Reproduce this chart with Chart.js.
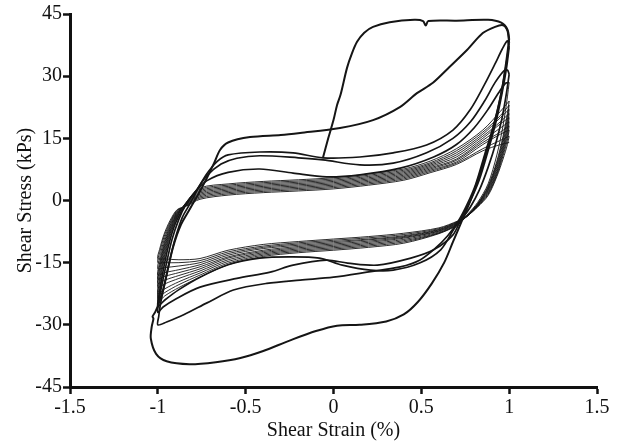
<!DOCTYPE html>
<html lang="en">
<head>
    <meta charset="UTF-8">
    <title>Shear Stress vs Shear Strain</title>
    <script src="https://cdn.jsdelivr.net/npm/chart.js"></script>
    <style>
        body {
            margin: 0;
            background-color: #ffffff;
        }
        .box {
            width: 622px;
            height: 443px;
        }
    </style>
</head>
<body>
    <div class="box">
        <canvas id="grafico"></canvas>
    </div>

    <script>
        // ticks
        const xTicks = [-1.5, -1, -0.5, 0, 0.5, 1, 1.5];
        const yTicks = [-45, -30, -15, 0, 15, 30, 45];

        // initial loading, strain (%) / stress (kPa)
        const initialLoading = [[-0.06,10.3],[-0.03,15],[0,19.4],[0.02,23],[0.04,25.5],[0.077,32],[0.105,35.5],[0.134,38.3],[0.175,40.5],[0.225,41.9],[0.32,43],[0.46,43.6],[0.51,43.3],[0.525,42.2],[0.54,43.3],[0.7,43.4],[0.88,43.6],[0.955,42.9],[0.99,41.3],[1.0,39]];

        // heavy cycles
        const cycle1 = [[1.0,39],[0.985,34],[0.96,27],[0.925,20],[0.88,13],[0.83,6],[0.78,0],[0.73,-5],[0.68,-10],[0.63,-15],[0.56,-20],[0.48,-24.5],[0.4,-27.5],[0.3,-29.2],[0.15,-30],[0.02,-30.2],[-0.1,-31.5],[-0.25,-33.8],[-0.4,-36.3],[-0.53,-38],[-0.67,-39],[-0.82,-39.5],[-0.95,-38.8],[-1.01,-37],[-1.04,-33.3],
            [-1.035,-30.5],[-1.025,-28.5],[-1.03,-28],[-1.016,-27],[-1.0,-25.5],[-0.97,-21.5],[-0.94,-16],[-0.913,-11.2],[-0.87,-6],[-0.817,-2],[-0.77,1.5],[-0.72,5.5],[-0.68,9],[-0.646,12.2],[-0.6,14],[-0.475,15.3],[-0.3,15.8],[-0.19,16.3],[0.037,17.5],[0.225,19.4],[0.38,22.6],[0.475,25.9],[0.566,28.4],[0.66,32.2],[0.76,36.3],[0.85,40.4],[0.92,41.9],[0.965,42.3],[0.99,41],[1.0,38]];

        const cycle2 = [[1.0,38],[0.98,32],[0.95,25],[0.91,18],[0.86,11],[0.81,4],[0.76,-1],[0.71,-5],[0.65,-8.5],[0.58,-11.5],[0.49,-14.4],[0.38,-16],[0.19,-17.3],[0,-18.5],[-0.19,-19.2],[-0.38,-20],[-0.57,-21.6],[-0.72,-24.7],[-0.85,-27.5],[-0.95,-29.3],[-1.0,-30],
            [-0.995,-28],[-0.985,-25],[-0.96,-20],[-0.93,-14],[-0.9,-9],[-0.86,-4],[-0.82,-1],[-0.77,3],[-0.72,6.5],[-0.66,9.5],[-0.6,11],[-0.42,11.7],[-0.23,11.5],[-0.06,10.3],[0.15,10.5],[0.34,11.5],[0.53,13.4],[0.68,17],[0.78,22],[0.86,28],[0.92,33],[0.96,36.5],[0.99,38.5],[1.0,37]];

        const cycle3 = [[1.0,37],[0.985,32],[0.96,26],[0.925,19],[0.88,12],[0.83,5],[0.78,0],[0.73,-4],[0.68,-8.3],[0.57,-11.9],[0.44,-13.9],[0.25,-15.6],[0.08,-15.1],[-0.04,-14.4],[-0.23,-15.6],[-0.36,-17.3],[-0.55,-18.8],[-0.76,-20.9],[-0.9,-23.8],[-0.97,-25.7],[-1.0,-27],
            [-0.995,-24.5],[-0.98,-21],[-0.95,-15],[-0.92,-9.5],[-0.88,-4.5],[-0.84,-1],[-0.78,2.5],[-0.72,6],[-0.64,8.8],[-0.55,10.2],[-0.42,10.8],[-0.2,10.3],[-0.06,9.8],[0.15,8.6],[0.34,9],[0.53,11.5],[0.68,15],[0.78,19],[0.86,24],[0.92,28.5],[0.97,31.3],[0.99,31.5],[1.0,30.5]];

        const cycle4 = [[1.0,30.5],[0.985,26],[0.96,20],[0.925,14],[0.88,8],[0.83,2.5],[0.78,-1.5],[0.73,-4.5],[0.69,-6.6],[0.61,-11.9],[0.49,-15.1],[0.34,-16.8],[0.21,-16.8],[0.05,-15.6],[-0.08,-13.9],[-0.25,-13.6],[-0.42,-13.9],[-0.6,-15.5],[-0.76,-18.5],[-0.88,-21.5],[-0.96,-24],[-1.0,-25.5],
            [-0.99,-22],[-0.97,-17],[-0.94,-11],[-0.9,-5.5],[-0.85,-1.5],[-0.79,2],[-0.72,4.8],[-0.6,6.8],[-0.42,7.6],[-0.23,6.6],[-0.04,5.7],[0.15,6.2],[0.38,7.8],[0.57,10.5],[0.7,13.5],[0.8,17.5],[0.88,22],[0.94,26],[0.98,28.3],[1.0,28.5]];

        // later (thin) cycles
        const cycle5 = [[1.0,28.5],[0.99,25],[0.965,18],[0.93,11],[0.88,4],[0.82,-0.5],[0.76,-3.5],[0.71,-5.8],[0.6,-8],[0.4,-10.3],[0.2,-11.3],[0,-12],[-0.2,-12.6],[-0.4,-13.5],[-0.6,-15.5],[-0.76,-18.5],[-0.88,-21],[-0.96,-23],[-1.0,-24.5],
            [-0.99,-20.5],[-0.965,-14.5],[-0.93,-8.5],[-0.89,-4],[-0.84,-0.5],[-0.76,3],[-0.6,4],[-0.4,4.6],[-0.2,5],[0,5.5],[0.2,6.4],[0.4,7.6],[0.55,9.5],[0.7,12.5],[0.85,17],[0.95,21.5],[1.0,24]];
        const cycle6 = [[1.0,24],[0.99,21],[0.965,15.5],[0.93,9.5],[0.88,3.5],[0.82,-0.8],[0.76,-3.6],[0.71,-5.7],[0.6,-7.9],[0.4,-10],[0.2,-11],[0,-11.7],[-0.2,-12.3],[-0.4,-13.2],[-0.6,-15.1],[-0.76,-18],[-0.88,-20.3],[-0.96,-22.2],[-1.0,-23.5],
            [-0.99,-19.5],[-0.965,-13.8],[-0.93,-8],[-0.89,-3.8],[-0.84,-0.6],[-0.76,2.7],[-0.6,3.7],[-0.4,4.3],[-0.2,4.7],[0,5.2],[0.2,6.1],[0.4,7.3],[0.55,9.1],[0.7,12],[0.85,16.5],[0.95,20.5],[1.0,23]];
        const cycle7 = [[1.0,23],[0.99,20],[0.965,14.8],[0.93,9],[0.88,3.2],[0.82,-0.9],[0.76,-3.7],[0.71,-5.6],[0.6,-7.8],[0.4,-9.7],[0.2,-10.7],[0,-11.4],[-0.2,-12],[-0.4,-12.9],[-0.6,-14.7],[-0.76,-17.5],[-0.88,-19.6],[-0.96,-21.3],[-1.0,-22.5],
            [-0.99,-18.7],[-0.965,-13],[-0.93,-7.6],[-0.89,-3.6],[-0.84,-0.7],[-0.76,2.4],[-0.6,3.4],[-0.4,4],[-0.2,4.4],[0,4.9],[0.2,5.8],[0.4,7],[0.55,8.8],[0.7,11.5],[0.85,16],[0.95,20],[1.0,22]];
        const cycle8 = [[1.0,22],[0.99,19],[0.965,14],[0.93,8.5],[0.88,3],[0.82,-1],[0.76,-3.8],[0.71,-5.5],[0.6,-7.6],[0.4,-9.4],[0.2,-10.4],[0,-11.1],[-0.2,-11.7],[-0.4,-12.6],[-0.6,-14.3],[-0.76,-17],[-0.88,-18.8],[-0.96,-20.1],[-1.0,-21],
            [-0.99,-17.5],[-0.965,-12.2],[-0.93,-7.2],[-0.89,-3.4],[-0.84,-0.8],[-0.76,2.1],[-0.6,3.1],[-0.4,3.7],[-0.2,4.1],[0,4.6],[0.2,5.5],[0.4,6.7],[0.55,8.5],[0.7,11],[0.85,15.5],[0.95,19],[1.0,21]];
        const cycle9 = [[1.0,21],[0.99,18],[0.965,13.2],[0.93,8],[0.88,2.7],[0.82,-1.1],[0.76,-3.8],[0.71,-5.4],[0.6,-7.4],[0.4,-9.1],[0.2,-10.1],[0,-10.8],[-0.2,-11.4],[-0.4,-12.3],[-0.6,-13.9],[-0.76,-16.5],[-0.88,-18.1],[-0.96,-19.2],[-1.0,-20],
            [-0.99,-16.6],[-0.965,-11.6],[-0.93,-6.8],[-0.89,-3.2],[-0.84,-0.9],[-0.76,1.8],[-0.6,2.8],[-0.4,3.4],[-0.2,3.8],[0,4.3],[0.2,5.2],[0.4,6.4],[0.55,8.2],[0.7,10.5],[0.85,15],[0.95,18.5],[1.0,20]];
        const cycle10 = [[1.0,20],[0.99,17.2],[0.965,12.6],[0.93,7.5],[0.88,2.4],[0.82,-1.2],[0.76,-3.8],[0.71,-5.3],[0.6,-7.3],[0.4,-8.9],[0.2,-9.8],[0,-10.5],[-0.2,-11.1],[-0.4,-12],[-0.6,-13.6],[-0.76,-16],[-0.88,-17.4],[-0.96,-18.3],[-1.0,-19],
            [-0.99,-15.8],[-0.965,-11],[-0.93,-6.4],[-0.89,-3],[-0.84,-1],[-0.76,1.5],[-0.6,2.5],[-0.4,3.1],[-0.2,3.5],[0,4],[0.2,4.9],[0.4,6.1],[0.55,7.9],[0.7,10],[0.85,14.5],[0.95,17.5],[1.0,19]];
        const cycle11 = [[1.0,19],[0.99,16.3],[0.965,12],[0.93,7],[0.88,2.1],[0.82,-1.3],[0.76,-3.8],[0.71,-5.2],[0.6,-7.1],[0.4,-8.7],[0.2,-9.5],[0,-10.2],[-0.2,-10.8],[-0.4,-11.6],[-0.6,-13.2],[-0.76,-15.5],[-0.88,-16.7],[-0.96,-17.4],[-1.0,-18],
            [-0.99,-15],[-0.965,-10.4],[-0.93,-6],[-0.89,-2.8],[-0.84,-1.1],[-0.76,1.2],[-0.6,2.2],[-0.4,2.8],[-0.2,3.2],[0,3.7],[0.2,4.6],[0.4,5.8],[0.55,7.6],[0.7,9.7],[0.85,14],[0.95,16.5],[1.0,18]];
        const cycle12 = [[1.0,18],[0.99,15.5],[0.965,11.4],[0.93,6.6],[0.88,1.8],[0.82,-1.4],[0.76,-3.8],[0.71,-5.1],[0.6,-7],[0.4,-8.5],[0.2,-9.3],[0,-9.9],[-0.2,-10.5],[-0.4,-11.3],[-0.6,-12.8],[-0.76,-15],[-0.88,-15.8],[-0.96,-16.2],[-1.0,-16.5],
            [-0.99,-13.8],[-0.965,-9.6],[-0.93,-5.6],[-0.89,-2.6],[-0.84,-1.2],[-0.76,0.9],[-0.6,1.9],[-0.4,2.5],[-0.2,2.9],[0,3.4],[0.2,4.3],[0.4,5.5],[0.55,7.3],[0.7,9.3],[0.85,13.5],[0.95,16],[1.0,17]];
        const cycle13 = [[1.0,17],[0.99,14.6],[0.965,10.8],[0.93,6.2],[0.88,1.5],[0.82,-1.5],[0.76,-3.8],[0.71,-5],[0.6,-6.8],[0.4,-8.2],[0.2,-9],[0,-9.6],[-0.2,-10.2],[-0.4,-11],[-0.6,-12.4],[-0.76,-14.5],[-0.88,-15],[-0.96,-15],[-1.0,-15],
            [-0.99,-12.6],[-0.965,-8.8],[-0.93,-5.2],[-0.89,-2.4],[-0.84,-1.3],[-0.76,0.6],[-0.6,1.6],[-0.4,2.2],[-0.2,2.6],[0,3.1],[0.2,4],[0.4,5.2],[0.55,7],[0.7,9],[0.85,12.5],[0.95,14.5],[1.0,15.5]];
        const cycle14 = [[1.0,15.5],[0.99,13.5],[0.965,10],[0.93,5.8],[0.88,1.2],[0.82,-1.6],[0.76,-3.8],[0.71,-4.9],[0.6,-6.6],[0.4,-7.9],[0.2,-8.7],[0,-9.3],[-0.2,-9.9],[-0.4,-10.6],[-0.6,-12],[-0.76,-14],[-0.88,-14.3],[-0.96,-14.1],[-1.0,-14],
            [-0.99,-11.8],[-0.965,-8.2],[-0.93,-4.8],[-0.89,-2.2],[-0.84,-1.4],[-0.76,0.3],[-0.6,1.3],[-0.4,1.9],[-0.2,2.3],[0,2.8],[0.2,3.7],[0.4,4.9],[0.55,6.7],[0.7,8.7],[0.85,12],[0.95,13.5],[1.0,14]];

        const grossos = [initialLoading, cycle1, cycle2, cycle3, cycle4];
        const finos = [cycle5, cycle6, cycle7, cycle8, cycle9, cycle10, cycle11, cycle12, cycle13, cycle14];

        function serie(pontos, largura) {
            return {
                data: pontos.map(p => ({ x: p[0], y: p[1] })),
                showLine: true,
                borderColor: "#151515",
                borderWidth: largura,
                pointRadius: 0,
                tension: 0.3,
                fill: false
            };
        }

        const datasets = [
            ...finos.map(c => serie(c, 0.9)),
            ...grossos.map((c, i) => serie(c, i < 2 ? 2 : 1.7))
        ];

        const fonte = { family: "'Liberation Serif', 'Times New Roman', serif", size: 20 };

        new Chart(document.getElementById("grafico"), {
            type: "scatter",
            data: { datasets },
            options: {
                responsive: true,
                maintainAspectRatio: false,
                animation: false,
                layout: { padding: { top: 14, right: 25, left: 0, bottom: 0 } },
                plugins: {
                    legend: { display: false },
                    tooltip: { enabled: false }
                },
                scales: {
                    x: {
                        type: "linear",
                        min: -1.5,
                        max: 1.5,
                        afterBuildTicks: s => { s.ticks = xTicks.map(v => ({ value: v })); },
                        afterFit: s => { s.height = 56; },
                        ticks: { color: "#111", font: fonte, padding: 2, callback: v => String(v) },
                        grid: { drawOnChartArea: false, drawTicks: true, tickLength: 7, tickWidth: 2.5, tickColor: "#111" },
                        border: { display: true, color: "#111", width: 3 },
                        title: { display: true, text: "Shear Strain (%)", color: "#111", font: fonte, padding: { top: 0, bottom: 0 } }
                    },
                    y: {
                        type: "linear",
                        min: -45,
                        max: 45,
                        afterBuildTicks: s => { s.ticks = yTicks.map(v => ({ value: v })); },
                        afterFit: s => { s.width = 70; },
                        ticks: { color: "#111", font: fonte, padding: 1, callback: v => String(v) },
                        grid: { drawOnChartArea: false, drawTicks: true, tickLength: 7, tickWidth: 2.5, tickColor: "#111" },
                        border: { display: true, color: "#111", width: 3 },
                        title: { display: true, text: "Shear Stress (kPs)", color: "#111", font: fonte, padding: { top: 14, bottom: 0 } }
                    }
                }
            }
        });
    </script>
</body>
</html>
